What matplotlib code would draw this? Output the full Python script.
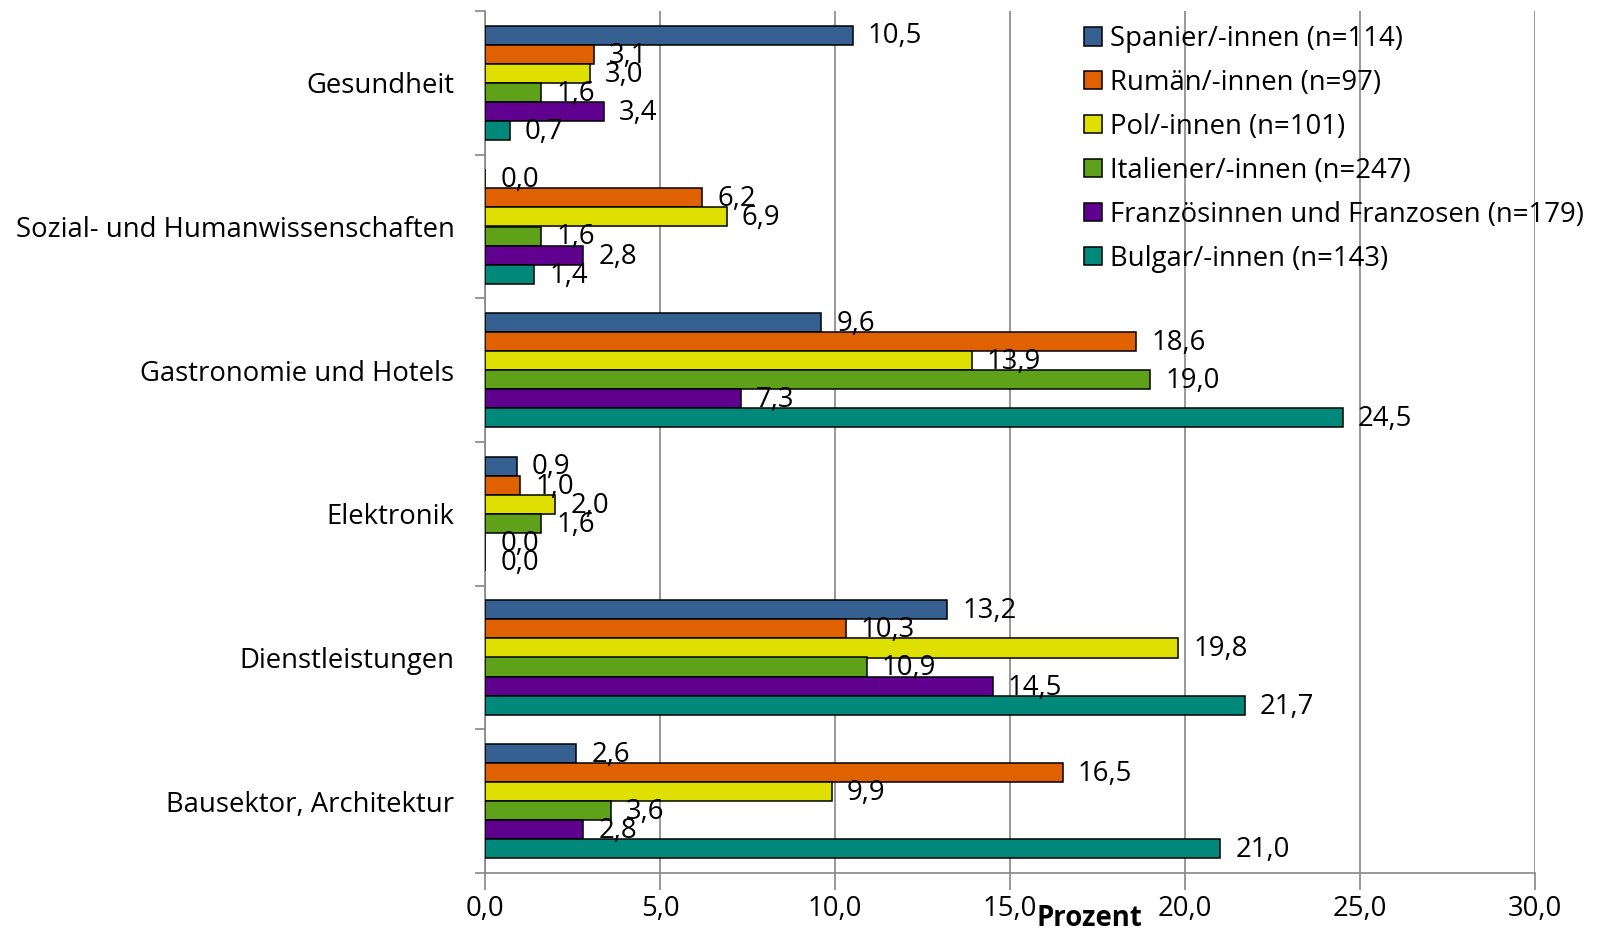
import matplotlib
matplotlib.use("Agg")
import matplotlib.pyplot as plt
import numpy as np
from matplotlib.ticker import FixedLocator, FuncFormatter

plt.rcParams['font.family'] = ['Open Sans', 'DejaVu Sans']

categories = ["Gesundheit", "Sozial- und Humanwissenschaften", "Gastronomie und Hotels",
              "Elektronik", "Dienstleistungen", "Bausektor, Architektur"]
series_names = ["Spanier/-innen (n=114)", "Rumän/-innen (n=97)", "Pol/-innen (n=101)",
                "Italiener/-innen (n=247)", "Französinnen und Franzosen (n=179)",
                "Bulgar/-innen (n=143)"]
spanier = [10.5, 0.0, 9.6, 0.9, 13.2, 2.6]
rumaen = [3.1, 6.2, 18.6, 1.0, 10.3, 16.5]
polen = [3.0, 6.9, 13.9, 2.0, 19.8, 9.9]
italiener = [1.6, 1.6, 19.0, 1.6, 10.9, 3.6]
franzosen = [3.4, 2.8, 7.3, 0.0, 14.5, 2.8]
bulgaren = [0.7, 1.4, 24.5, 0.0, 21.7, 21.0]
series = [spanier, rumaen, polen, italiener, franzosen, bulgaren]
colors = ["#376092", "#E06100", "#DFDF00", "#5FA21A", "#5F008F", "#00897A"]
xticks = [0, 5, 10, 15, 20, 25, 30]

FS = 19.8

fig = plt.figure(figsize=(16.01, 9.30), dpi=100)
ax = fig.add_axes([485/1601, 1-873/930, (1535-485)/1601, (873-11)/930])

n = len(series)
bh = 0.133
y = np.arange(len(categories))
for i, (vals, col, name) in enumerate(zip(series, colors, series_names)):
    ypos = y - (n/2 - 0.5 - i) * bh
    ax.barh(ypos, vals, height=bh, color=col, edgecolor="black", linewidth=1.1,
            label=name, zorder=3)
    for yy, v in zip(ypos, vals):
        ax.annotate(f"{v:.1f}".replace(".", ","), xy=(v, yy), xytext=(11, -1),
                    textcoords="offset points", va="center", ha="left",
                    fontsize=FS, zorder=5)

ax.set_xlim(0, 30)
ax.set_ylim(len(categories) - 0.5, -0.5)
ax.set_xticks(xticks)
ax.xaxis.set_major_formatter(FuncFormatter(lambda v, p: f"{v:.1f}".replace(".", ",")))
ax.tick_params(axis="x", direction="out", length=12, width=1.2, color="#868686",
               labelsize=FS, pad=4)
ax.set_yticks(y)
ax.set_yticklabels(categories)
ax.tick_params(axis="y", which="major", length=0, labelsize=FS, pad=22)
ax.yaxis.set_minor_locator(FixedLocator(np.arange(-0.5, len(categories), 1.0)))
ax.tick_params(axis="y", which="minor", direction="out", length=7, width=1.2, color="#868686")
for lbl in ax.get_yticklabels():
    lbl.set_y(lbl.get_position()[1])

ax.grid(axis="x", color="#868686", linewidth=1.2, zorder=0)
for s in ["top", "right"]:
    ax.spines[s].set_visible(False)
for s in ["left", "bottom"]:
    ax.spines[s].set_color("#868686")
    ax.spines[s].set_linewidth(1.2)

fig.text(1089/1601, 1-918/930, "Prozent", fontsize=FS, fontweight="bold",
         ha="center", va="center")

leg = ax.legend(loc="upper left", bbox_to_anchor=(1073/1601, 1-14/930),
                bbox_transform=fig.transFigure, frameon=False, fontsize=FS,
                handlelength=0.65, handleheight=0.65, handletextpad=0.3,
                labelspacing=0.58, borderaxespad=0)

fig.savefig("out.png", dpi=100)
